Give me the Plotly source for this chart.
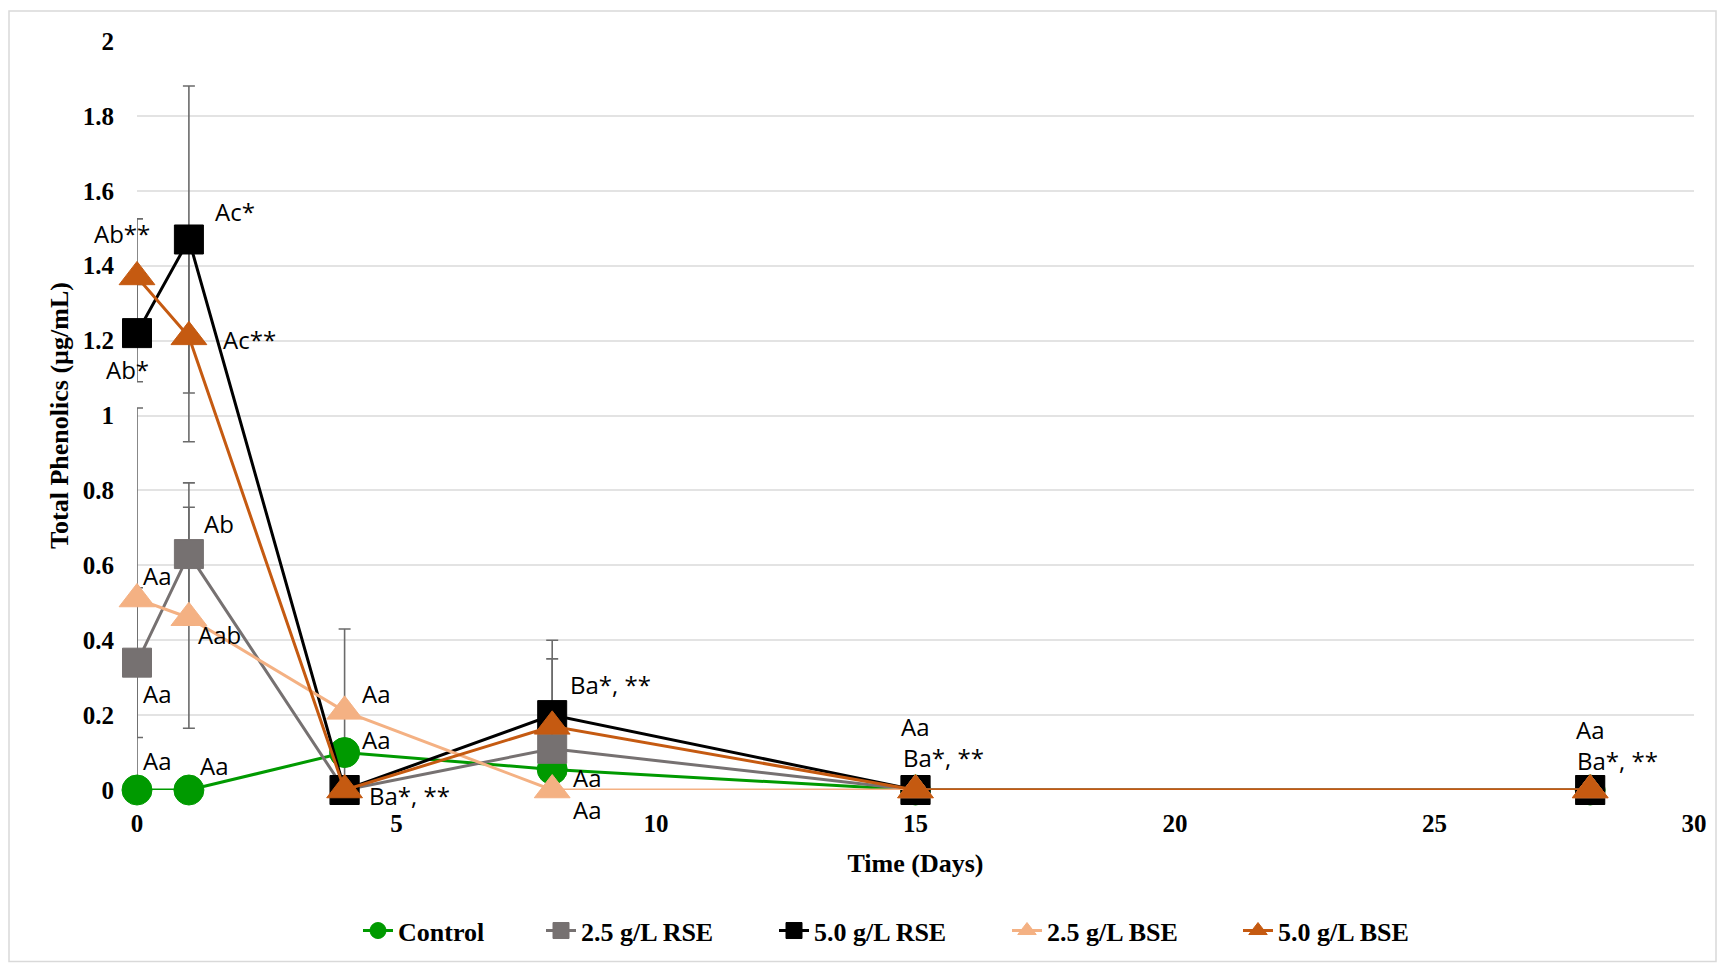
import plotly.graph_objects as go

# Sampling days
days = [0, 1, 4, 8, 15, 28]

# Total phenolics (µg/mL) per treatment
control = [0.0, 0.0, 0.10, 0.055, 0.0, 0.0]
rse_25 = [0.34, 0.63, 0.0, 0.11, 0.0, 0.0]
rse_50 = [1.22, 1.47, 0.0, 0.20, 0.0, 0.0]
bse_25 = [0.51, 0.46, 0.21, 0.0, 0.0, 0.0]
bse_50 = [1.37, 1.21, 0.0, 0.17, 0.0, 0.0]

# Standard deviations
control_sd = [0, 0, 0, 0, 0, 0]
rse_25_sd = [0.20, 0.19, 0, 0, 0, 0]
rse_50_sd = [0.13, 0.41, 0, 0.20, 0, 0]
bse_25_sd = [0.51, 0.295, 0.22, 0, 0, 0]
bse_50_sd = [0.155, 0.28, 0, 0.18, 0, 0]

series_names = ["Control", "2.5 g/L RSE", "5.0 g/L RSE", "2.5 g/L BSE", "5.0 g/L BSE"]
series_values = [control, rse_25, rse_50, bse_25, bse_50]
series_sd = [control_sd, rse_25_sd, rse_50_sd, bse_25_sd, bse_50_sd]

# Significance letters: (series index, day index, text)
letters = [
    (4, 0, "Ab**"), (2, 0, "Ab*"), (2, 1, "Ac*"), (4, 1, "Ac**"),
    (3, 0, "Aa"), (1, 0, "Aa"), (0, 0, "Aa"), (0, 1, "Aa"),
    (1, 1, "Ab"), (3, 1, "Aab"), (3, 2, "Aa"), (0, 2, "Aa"),
    (2, 2, "Ba*, **"), (2, 3, "Ba*, **"), (0, 3, "Aa"), (3, 3, "Aa"),
    (0, 4, "Aa"), (2, 4, "Ba*, **"), (0, 5, "Aa"), (2, 5, "Ba*, **"),
]

# label offsets in pixels (dx, dy up), anchor
label_style = [
    (-15, 43, "center"), (-10, -36, "center"), (46, 28, "center"), (61, -3, "center"),
    (20, 24, "center"), (20, -31, "center"), (20, 30, "center"), (26, 25, "center"),
    (30, 31, "center"), (31, -17, "center"), (32, 18, "center"), (32, 13, "center"),
    (22, -5, "left"), (16, 31, "left"), (35, -8, "center"), (35, -19, "center"),
    (0, 64, "center"), (-15, 33, "left"), (0, 61, "center"), (-15, 30, "left"),
]

colors = ["#009A00", "#767171", "#000000", "#F4B183", "#C55A11"]
symbols = ["circle", "square", "square", "triangle-up", "triangle-up"]
sizes = [30, 29, 29, 31, 31]

L, R, T, B = 137, 24, 41, 174
W, H = 1718, 966
pw, ph = W - L - R, H - T - B

# where each legend entry's text begins, in pixels
legend_px = [398, 581, 814, 1047, 1278]

fig = go.Figure()

# error bars, clipped to the plotting area
for vals, sd in zip(series_values, series_sd):
    fig.add_trace(go.Scatter(
        x=days, y=vals, mode="markers",
        marker=dict(size=1, opacity=0),
        error_y=dict(type="data", array=sd, symmetric=True, color="#6b6b6b",
                     thickness=1.6, width=6),
        cliponaxis=True, showlegend=False, hoverinfo="skip",
    ))

legend_font = dict(family="Liberation Serif", size=26, color="#000000")
legend_layouts = {}
for i, (name, vals, col, sym, sz) in enumerate(
        zip(series_names, series_values, colors, symbols, sizes)):
    lg = "legend" if i == 0 else f"legend{i + 1}"
    fig.add_trace(go.Scatter(
        x=days, y=vals, mode="lines+markers", name="<b>" + name + "</b>",
        line=dict(color=col, width=3),
        marker=dict(symbol=sym, size=sz, color=col, line=dict(color=col, width=1)),
        cliponaxis=False, legend=lg,
    ))
    legend_layouts[lg] = dict(
        orientation="h", x=(legend_px[i] - 40 - L) / pw, xanchor="left",
        y=(H - B - 933) / ph, yanchor="middle",
        font=legend_font, bgcolor="rgba(0,0,0,0)",
    )

for (si, di, txt), (dx, dy, anc) in zip(letters, label_style):
    fig.add_annotation(
        x=days[di], y=series_values[si][di], xref="x", yref="y",
        text=txt, showarrow=False, xanchor=anc, yanchor="middle",
        xshift=dx, yshift=dy,
        font=dict(family="Open Sans", size=24, color="#000000"),
    )

# outer chart frame
fig.add_shape(
    type="rect", xref="paper", yref="paper",
    x0=(9 - L) / pw, x1=(1716 - L) / pw,
    y0=(H - B - 964) / ph, y1=(H - B - 11) / ph,
    line=dict(color="#D9D9D9", width=1.5), fillcolor="rgba(0,0,0,0)", layer="below",
)

tick_font = dict(family="Liberation Serif", size=25, color="#000000")
title_font = dict(family="Liberation Serif", size=26, color="#000000")

fig.update_layout(
    width=W, height=H,
    margin=dict(l=L, r=R, t=T, b=B),
    paper_bgcolor="white", plot_bgcolor="white",
    showlegend=True,
    xaxis=dict(
        range=[0, 30], dtick=5, tick0=0, showgrid=False, zeroline=False,
        showline=False, ticks="", ticklabelstandoff=16,
        tickfont=tick_font, tickprefix="<b>", ticksuffix="</b>",
        title=dict(text="<b>Time (Days)</b>", font=title_font, standoff=17),
    ),
    yaxis=dict(
        range=[0, 2], dtick=0.2, tick0=0, showgrid=True, gridcolor="#E3E3E3",
        gridwidth=1.5, zeroline=False, showline=False, ticks="",
        ticklabelstandoff=22, tickfont=tick_font, tickprefix="<b>", ticksuffix="</b>",
        title=dict(text="<b>Total Phenolics (µg/mL)</b>", font=title_font, standoff=6),
    ),
    **legend_layouts,
)

fig.write_html("out.html")
